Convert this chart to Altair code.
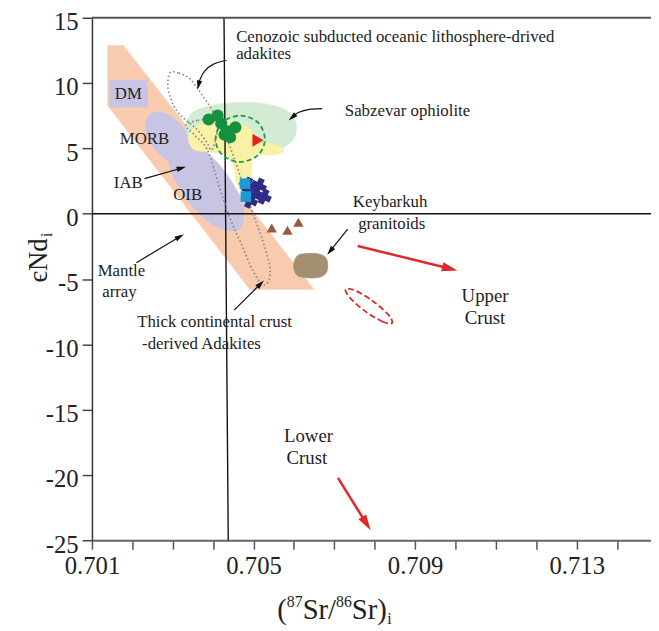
import altair as alt
import pandas as pd

FONT = "Liberation Serif"

# ---------------- axis ticks ----------------
x_ticks = [0.701, 0.702, 0.703, 0.704, 0.705, 0.706, 0.707, 0.708, 0.709,
           0.710, 0.711, 0.712, 0.713, 0.714]
x_tick_labels = ["0.701", "0.705", "0.709", "0.713"]
y_ticks = [-25, -20, -15, -10, -5, 0, 5, 10, 15]

# ---------------- fields (87Sr/86Sr, eNd) ----------------
mantle_x = [0.70139, 0.70178, 0.70650, 0.70491, 0.70139]
mantle_y = [12.88, 12.88, -5.80, -5.80, 8.27]

dm_x = [0.70143, 0.70238]
dm_y = [8.12, 10.26]

morb_x = [0.70338, 0.70299, 0.70256, 0.70233, 0.70244, 0.70282, 0.70325, 0.70349]
morb_y = [3.92, 3.87, 4.93, 6.49, 7.63, 7.68, 6.62, 5.06]

oib_x = [0.70464, 0.70407, 0.70336, 0.70292, 0.70301, 0.70358, 0.70429, 0.70473]
oib_y = [-1.17, -0.98, 1.05, 3.71, 5.46, 5.27, 3.24, 0.58]

sabz_x = [0.70332, 0.70349, 0.70393, 0.70447, 0.70503, 0.70552, 0.70589, 0.70606,
          0.70599, 0.70569, 0.70521, 0.70472, 0.70415, 0.70369, 0.70342]
sabz_y = [6.76, 7.74, 8.27, 8.50, 8.50, 8.27, 7.74, 6.83,
          5.70, 5.02, 4.87, 4.57, 4.64, 5.02, 5.77]

yel_x = [0.70340, 0.70362, 0.70398, 0.70440, 0.70479, 0.70503, 0.70528, 0.70565,
         0.70574, 0.70545, 0.70503, 0.70496, 0.70494, 0.70474, 0.70457, 0.70450,
         0.70430, 0.70391, 0.70354, 0.70340]
yel_y = [6.08, 6.76, 6.98, 7.14, 6.76, 6.08, 5.47, 5.17,
         4.72, 4.49, 4.49, 3.58, 2.22, 1.69, 2.45, 3.73,
         4.49, 4.72, 4.87, 5.47]

ceno_x = [0.70293, 0.70315, 0.70340, 0.70357, 0.70374, 0.70391, 0.70406, 0.70411,
          0.70406, 0.70396, 0.70384, 0.70362, 0.70337, 0.70313, 0.70296, 0.70288]
ceno_y = [10.77, 10.77, 10.39, 9.78, 9.03, 8.27, 7.44, 6.61,
          5.70, 4.87, 5.47, 6.38, 7.06, 7.74, 8.72, 9.71]

thick_x = [0.70332, 0.70362, 0.70401, 0.70425, 0.70442, 0.70472, 0.70501, 0.70523,
           0.70540, 0.70538, 0.70521, 0.70496, 0.70472, 0.70442, 0.70415, 0.70386, 0.70352]
thick_y = [6.76, 7.14, 7.14, 6.23, 5.10, 2.45, -0.20, -2.09,
           -3.98, -5.11, -5.41, -4.21, -2.47, -0.35, 2.07, 4.87, 6.08]

gcirc_x = [0.70528, 0.70511, 0.70467, 0.70423, 0.70406, 0.70423, 0.70467, 0.70511]
gcirc_y = [5.70, 4.49, 3.96, 4.49, 5.70, 6.98, 7.51, 6.98]

redell_x = [0.70843, 0.70820, 0.70777, 0.70739, 0.70728, 0.70752, 0.70795, 0.70833]
redell_y = [-8.36, -8.27, -7.48, -6.45, -5.79, -5.89, -6.68, -7.71]

keyb_x = [0.70599, 0.70606, 0.70623, 0.70660, 0.70679, 0.70684, 0.70679, 0.70660,
          0.70623, 0.70606]
keyb_y = [-3.98, -3.30, -3.07, -3.07, -3.37, -3.98, -4.58, -4.89, -4.89, -4.66]

# ---------------- samples ----------------
green_x = [0.70389, 0.70411, 0.70420, 0.70435, 0.70455, 0.70442, 0.70428]
green_y = [7.21, 7.51, 6.91, 6.30, 6.61, 5.85, 6.05]

red_tri_x = [0.70511]
red_tri_y = [5.62]

navy_x = [0.70484, 0.70513, 0.70501, 0.70525, 0.70491]
navy_y = [2.22, 2.14, 1.47, 1.31, 1.01]

blue_x = [0.70479, 0.70481]
blue_y = [2.30, 1.31]

brown_x = [0.70545, 0.70584, 0.70611]
brown_y = [-1.10, -1.26, -0.65]

# ---------------- reference lines ----------------
vline_x = [0.704269, 0.704374]
vline_y = [15, -25]

# ---------------- arrows ----------------
arrow_id = ["ceno"] * 5 + ["sabz"] * 4 + ["iab"] * 2 + ["keyb"] * 2 + ["thick"] * 2 + ["mantle"] * 2
arrow_x = [0.70433, 0.70401, 0.70379, 0.70367, 0.70364,
           0.70670, 0.70635, 0.70611, 0.70596,
           0.70230, 0.70321,
           0.70733, 0.70690,
           0.70452, 0.70517,
           0.70210, 0.70317]
arrow_y = [11.75, 11.45, 10.92, 10.24, 9.85,
           8.04, 7.97, 7.74, 7.39,
           2.68, 3.48,
           -1.18, -2.85,
           -7.38, -5.38,
           -3.75, -1.76]
head_x = [0.70364, 0.70596, 0.70321, 0.70690, 0.70517, 0.70317]
head_y = [9.85, 7.39, 3.48, -2.85, -5.38, -1.76]
head_angle = [193, 229, 74, 219, 45, 59]

red_arrow_id = ["upper", "upper", "lower", "lower"]
red_arrow_x = [0.70758, 0.70985, 0.70709, 0.70779]
red_arrow_y = [-2.47, -4.20, -20.23, -23.70]
red_head_x = [0.70985, 0.70779]
red_head_y = [-4.20, -23.70]
red_head_angle = [104, 148]

# ---------------- annotations ----------------
lab_center_text = ["DM", "MORB", "IAB", "OIB", "Keybarkuh", "granitoids", "Mantle", "array"]
lab_center_x = [0.70190, 0.70230, 0.70190, 0.70337, 0.70838, 0.70842, 0.70173, 0.70168]
lab_center_y = [9.18, 5.70, 2.37, 1.46, 0.86, -0.80, -4.36, -6.02]

lab_left_text = ["Cenozoic subducted oceanic lithosphere-drived", "adakites",
                 "Sabzevar ophiolite", "Thick continental crust", "-derived Adakites"]
lab_left_x = [0.70457, 0.70457, 0.70726, 0.70212, 0.70224]
lab_left_y = [13.56, 12.20, 7.89, -8.29, -9.95]

crust_text = ["Upper", "Crust", "Lower", "Crust"]
crust_x = [0.71073, 0.71073, 0.70636, 0.70632]
crust_y = [-6.33, -8.00, -17.06, -18.72]

# ---------------- helpers ----------------
xs = alt.Scale(domain=[0.701, 0.714839], nice=False, zero=False)
ys = alt.Scale(domain=[-25, 15], nice=False, zero=False)

x_axis = alt.Axis(
    values=x_ticks, grid=False, title=None,
    labelExpr="indexof(" + str(x_tick_labels) + ", format(datum.value, '.3f')) >= 0 ? format(datum.value, '.3f') : ''",
    labelFont=FONT, labelFontSize=25, labelColor="#222", labelPadding=5,
    tickSize=9, tickColor="#555", tickWidth=1.5,
    domainColor="#666", domainWidth=2, labelFlush=False, labelOverlap=False,
)
y_axis = alt.Axis(
    values=y_ticks, grid=False, title=None,
    labelExpr="'' + datum.value",
    labelFont=FONT, labelFontSize=25, labelColor="#222", labelPadding=4, labelOffset=4,
    tickSize=10, tickColor="#444", tickWidth=1.5,
    domainColor="#333", domainWidth=1.5, labelFlush=False, labelOverlap=False,
)


def X(f="x"):
    return alt.X(f + ":Q", scale=xs, axis=x_axis)


def Y(f="y"):
    return alt.Y(f + ":Q", scale=ys, axis=y_axis)


def poly_df(xv, yv):
    return pd.DataFrame({"x": xv, "y": yv, "i": list(range(len(xv)))})


def blob(xv, yv, color, interp="cardinal-closed"):
    return alt.Chart(poly_df(xv, yv)).mark_line(
        interpolate=interp, fill=color, color=color, strokeWidth=0.5
    ).encode(x=X(), y=Y(), order="i:Q")


def outline(xv, yv, color, dash, width):
    return alt.Chart(poly_df(xv, yv)).mark_line(
        interpolate="cardinal-closed", color=color, strokeDash=dash, strokeWidth=width
    ).encode(x=X(), y=Y(), order="i:Q")


def pts(xv, yv, **kw):
    return alt.Chart(pd.DataFrame({"x": xv, "y": yv})).mark_point(
        filled=True, opacity=1, **kw).encode(x=X(), y=Y())


PEACH = "#F8CBAE"
LAV = "#C8C4E4"

layers = []
layers.append(blob(mantle_x, mantle_y, PEACH, interp="linear-closed"))
layers.append(
    alt.Chart(pd.DataFrame({"x": [dm_x[0]], "x2": [dm_x[1]], "y": [dm_y[0]], "y2": [dm_y[1]]}))
    .mark_rect(color=LAV)
    .encode(x=X(), x2="x2:Q", y=Y(), y2="y2:Q")
)
layers.append(blob(morb_x, morb_y, LAV))
layers.append(blob(oib_x, oib_y, LAV))
layers.append(blob(sabz_x, sabz_y, "#D3EBD3"))
layers.append(blob(yel_x, yel_y, "#F9F1A5"))

# zero lines
layers.append(alt.Chart(pd.DataFrame({"y": [0]})).mark_rule(color="#111", strokeWidth=1.4).encode(y=Y()))
layers.append(alt.Chart(poly_df(vline_x, vline_y)).mark_line(color="#111", strokeWidth=1.4)
              .encode(x=X(), y=Y(), order="i:Q"))
# top frame
layers.append(alt.Chart(pd.DataFrame({"y": [15]})).mark_rule(color="#555", strokeWidth=2).encode(y=Y()))

layers.append(outline(ceno_x, ceno_y, "#858585", [1.5, 2.5], 1.7))
layers.append(outline(thick_x, thick_y, "#858585", [1.5, 2.5], 1.7))
layers.append(outline(gcirc_x, gcirc_y, "#1E9A4A", [5, 3], 1.8))
layers.append(outline(redell_x, redell_y, "#D42A2A", [6, 3], 1.8))
layers.append(blob(keyb_x, keyb_y, "#A48F70"))

layers.append(pts(green_x, green_y, shape="circle", size=150, color="#14913F"))
layers.append(pts(red_tri_x, red_tri_y, shape="triangle-right", size=170, color="#E3231F"))
layers.append(pts(navy_x, navy_y, shape="cross", size=240, angle=25, color="#2E2C87"))
layers.append(pts(blue_x, blue_y, shape="square", size=115, color="#1C9AD6"))
layers.append(pts(brown_x, brown_y, shape="triangle-up", size=110, color="#9C5A3C"))

# arrows
HEAD = "M0,-1L0.55,0.9L-0.55,0.9Z"
layers.append(
    alt.Chart(pd.DataFrame({"x": arrow_x, "y": arrow_y, "id": arrow_id, "i": list(range(len(arrow_x)))}))
    .mark_line(color="#111", strokeWidth=1.2, interpolate="cardinal")
    .encode(x=X(), y=Y(), detail="id:N", order="i:Q")
)
layers.append(
    alt.Chart(pd.DataFrame({"x": head_x, "y": head_y, "a": head_angle}))
    .mark_point(shape=HEAD, filled=True, opacity=1, size=100, color="#111")
    .encode(x=X(), y=Y(), angle=alt.Angle("a:Q", scale=None))
)
layers.append(
    alt.Chart(pd.DataFrame({"x": red_arrow_x, "y": red_arrow_y, "id": red_arrow_id, "i": list(range(4))}))
    .mark_line(color="#E02828", strokeWidth=2.5)
    .encode(x=X(), y=Y(), detail="id:N", order="i:Q")
)
layers.append(
    alt.Chart(pd.DataFrame({"x": red_head_x, "y": red_head_y, "a": red_head_angle}))
    .mark_point(shape=HEAD, filled=True, opacity=1, size=280, color="#E02828")
    .encode(x=X(), y=Y(), angle=alt.Angle("a:Q", scale=None))
)

# annotation texts
layers.append(
    alt.Chart(pd.DataFrame({"x": lab_center_x, "y": lab_center_y, "t": lab_center_text}))
    .mark_text(font=FONT, fontSize=17, color="#222", align="center", baseline="middle")
    .encode(x=X(), y=Y(), text="t:N")
)
layers.append(
    alt.Chart(pd.DataFrame({"x": lab_left_x, "y": lab_left_y, "t": lab_left_text}))
    .mark_text(font=FONT, fontSize=17, color="#222", align="left", baseline="middle")
    .encode(x=X(), y=Y(), text="t:N")
)
layers.append(
    alt.Chart(pd.DataFrame({"x": crust_x, "y": crust_y, "t": crust_text}))
    .mark_text(font=FONT, fontSize=19, color="#222", align="center", baseline="middle")
    .encode(x=X(), y=Y(), text="t:N")
)

# axis titles (rich text pieces)
x_title_parts = ["(", "87", "Sr/", "86", "Sr)", "i"]
x_title_px = [187.6, 197.3, 213.3, 247.1, 263.1, 299]
x_title_py = [609, 597, 609, 597, 609, 614]
x_title_fs = [29, 16, 29, 16, 29, 16]
for t, px, py, fs in zip(x_title_parts, x_title_px, x_title_py, x_title_fs):
    layers.append(
        alt.Chart(pd.DataFrame({"t": [t]}))
        .mark_text(font=FONT, fontSize=fs, color="#222", align="left", baseline="alphabetic")
        .encode(x=alt.value(px), y=alt.value(py), text="t:N")
    )
y_title_parts = ["єNd", "i"]
y_title_px = [-46, -40]
y_title_py = [268, 222]
y_title_fs = [27, 16]
for t, px, py, fs in zip(y_title_parts, y_title_px, y_title_py, y_title_fs):
    layers.append(
        alt.Chart(pd.DataFrame({"t": [t]}))
        .mark_text(font=FONT, fontSize=fs, color="#222", align="left", baseline="alphabetic", angle=270)
        .encode(x=alt.value(px), y=alt.value(py), text="t:N")
    )

chart = alt.layer(*layers).properties(
    width=566, height=529,
    autosize=alt.AutoSizeParams(type="none"),
    padding={"left": 85, "top": 6, "right": 0, "bottom": 88},
).configure_view(strokeWidth=0)

chart.save("out.html", embed_options={"renderer": "svg", "actions": False})
